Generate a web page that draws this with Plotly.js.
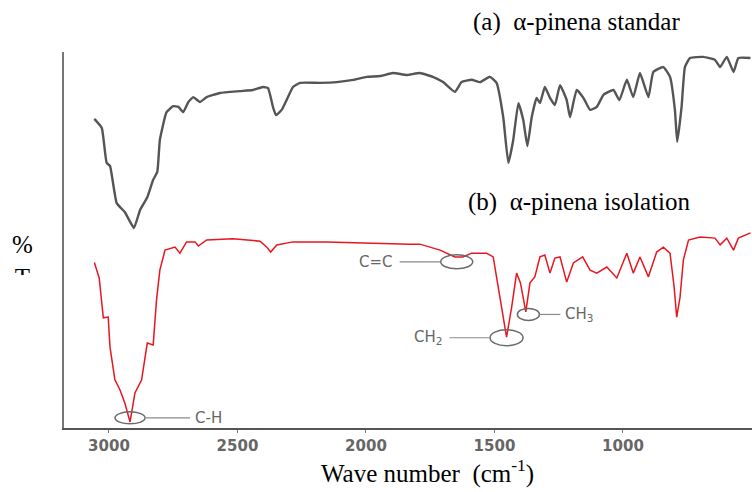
<!DOCTYPE html>
<html>
<head>
<meta charset="utf-8">
<script src="https://cdn.plot.ly/plotly-3.0.1.min.js"></script>
<style>
html,body{margin:0;padding:0;background:#fff;}
#chart{width:752px;height:492px;}
</style>
</head>
<body>
<div id="chart"></div>
<script>
// Wave numbers (cm-1) and %T values
const standardWn = [3057,3028,3009,2996,2970,2938,2903,2879,2851,2828,2812,2802,2776,2750,2730,2711,2691,2672,2646,2620,2568,2490,2440,2401,2381,2362,2350,2328,2309,2284,2257,2179,2114,2050,1997,1945,1895,1842,1790,1740,1700,1654,1628,1589,1556,1518,1492,1466,1446,1427,1407,1388,1372,1355,1336,1323,1304,1284,1265,1245,1219,1206,1180,1154,1128,1102,1076,1037,1014,985,960,934,901,882,843,817,798,789,772,759,739,688,642,622,596,570,551,504];
const standardT = [82.2,79.8,70.5,69.7,59.8,57.4,53.2,58.0,61.4,66.0,68.1,76.6,84.0,85.6,85.4,84.0,86.7,88.0,86.7,88.0,89.1,89.6,89.9,90.7,90.4,85.4,83.2,84.6,87.2,90.7,91.8,91.8,92.0,92.6,93.4,93.6,94.4,93.9,94.4,93.4,92.0,89.4,92.0,92.6,92.0,93.4,91.8,82.7,70.5,76.6,86.4,81.9,75.0,82.7,87.8,86.4,90.7,87.8,85.9,91.2,87.2,82.7,89.9,87.8,84.6,85.4,88.6,89.9,87.2,92.6,88.0,94.4,88.0,94.7,96.0,93.4,84.6,76.1,85.4,96.0,98.4,98.7,97.9,96.0,98.7,94.7,98.4,98.4];

const isolationWn = [3057,3038,3022,3003,2996,2977,2957,2938,2918,2899,2873,2851,2828,2815,2802,2782,2743,2724,2698,2665,2652,2620,2518,2412,2386,2371,2347,2284,2153,2023,1895,1829,1790,1712,1654,1623,1589,1531,1505,1485,1472,1453,1433,1414,1399,1378,1362,1343,1323,1304,1284,1265,1245,1219,1193,1157,1128,1102,1063,1024,985,960,934,901,869,843,817,801,791,778,765,745,700,642,622,596,570,551,504];
const isolationT = [44.0,39.9,29.3,29.5,21.5,12.8,10.1,6.6,1.6,9.3,12.8,22.6,22.1,34.0,42.0,47.3,48.1,46.5,49.5,49.5,48.4,50.0,50.3,49.7,48.1,46.8,48.7,49.5,49.5,49.2,48.9,48.9,48.9,47.3,45.5,45.5,46.5,46.5,45.5,37.5,32.2,24.2,32.2,41.2,38.6,30.9,38.6,40.2,45.5,46.0,41.2,45.2,45.5,38.8,43.9,45.5,42.0,41.2,42.8,39.9,46.5,41.2,45.5,40.2,46.8,48.1,46.5,37.5,29.5,34.8,44.7,50.0,50.8,50.5,48.7,50.5,47.3,50.5,51.9];

const tickValues = [3000,2500,2000,1500,1000];
const tickLabels = ['3000','2500','2000','1500','1000'];

const peakLabels = ['C-H','C=C','CH<sub>2</sub>','CH<sub>3</sub>'];
const peakWn = [2918,1647,1453,1368];
const peakT = [2.7,44.2,24.0,30.2];

const seriesNames = ['(a)\u00a0\u00a0α-pinena standar','(b)\u00a0\u00a0α-pinena isolation'];
const xTitle = 'Wave number\u00a0\u00a0(cm<sup>-1</sup>)';
const yTitle = '%<br>T';

// style config for the peak markers (pixel offsets from the peak)
const markStyle = [
  {rx:15, ry:6, l0:16, l1:60, tx:63, side:'left'},
  {rx:16, ry:7, l0:-57, l1:-16, tx:-62, side:'right'},
  {rx:16.5, ry:8, l0:-57, l1:-17, tx:-63, side:'right'},
  {rx:11, ry:6, l0:11, l1:32, tx:35, side:'left'}
];

const traces = [
  {x: standardWn, y: standardT, type:'scatter', mode:'lines',
   line:{color:'rgb(85,85,85)', width:2.4, shape:'spline', smoothing:0.4}, hoverinfo:'skip'},
  {x: isolationWn, y: isolationT, type:'scatter', mode:'lines',
   line:{color:'rgb(232,22,32)', width:1.5}, hoverinfo:'skip'}
];

const shapes = [];
const annotations = [];
peakLabels.forEach((lab,i)=>{
  const s = markStyle[i];
  shapes.push({type:'circle', xref:'x', yref:'y', xsizemode:'pixel', ysizemode:'pixel',
    xanchor:peakWn[i], yanchor:peakT[i], x0:-s.rx, x1:s.rx, y0:-s.ry, y1:s.ry,
    line:{color:'#6a6a6a', width:1.5}, layer:'above'});
  shapes.push({type:'line', xref:'x', yref:'y', xsizemode:'pixel', ysizemode:'pixel',
    xanchor:peakWn[i], yanchor:peakT[i], x0:s.l0, x1:s.l1, y0:0, y1:0,
    line:{color:'#8a8a8a', width:1.2}, layer:'above'});
  annotations.push({text:lab, xref:'x', yref:'y', x:peakWn[i], y:peakT[i],
    xshift:s.tx, xanchor:s.side, yanchor:'middle', showarrow:false,
    font:{family:'DejaVu Sans', size:15, color:'#666'}});
});

const serif = 'Liberation Serif, Times New Roman, serif';
annotations.push({text:seriesNames[0], xref:'paper', yref:'paper', x:0.592, y:1.080,
  xanchor:'left', yanchor:'middle', showarrow:false, font:{family:serif, size:25, color:'#000'}});
annotations.push({text:seriesNames[1], xref:'paper', yref:'paper', x:0.585, y:0.601,
  xanchor:'left', yanchor:'middle', showarrow:false, font:{family:serif, size:25, color:'#000'}});
annotations.push({text:xTitle, xref:'paper', yref:'paper', x:0.528, y:-0.117,
  xanchor:'center', yanchor:'middle', showarrow:false, font:{family:serif, size:25, color:'#000'}});
annotations.push({text:yTitle, xref:'paper', yref:'paper', x:-0.061, y:(428-229)/376,
  xanchor:'center', yanchor:'top', showarrow:false, height:44, valign:'top',
  font:{family:serif, size:25, color:'#000'}});

const layout = {
  width:752, height:492,
  margin:{l:64, r:0, t:52, b:64},
  paper_bgcolor:'#fff', plot_bgcolor:'#fff',
  showlegend:false,
  xaxis:{range:[3175,498], autorange:false, tickvals:tickValues, ticktext:tickLabels,
    showgrid:false, zeroline:false, showline:true, linecolor:'#555', linewidth:1.5,
    ticks:'outside', ticklen:3, tickcolor:'#777', tickwidth:1,
    tickfont:{family:'DejaVu Sans', size:15, weight:'bold', color:'#666'}},
  yaxis:{range:[0,100], autorange:false, showticklabels:false, ticks:'',
    showgrid:false, zeroline:false, showline:true, linecolor:'#777', linewidth:2.5},
  shapes:shapes,
  annotations:annotations
};

Plotly.newPlot('chart', traces, layout, {staticPlot:true, displayModeBar:false});
</script>
</body>
</html>
